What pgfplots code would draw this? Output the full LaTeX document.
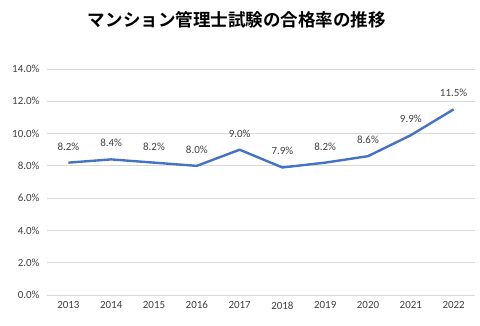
\documentclass[border=0pt]{standalone}
\usepackage{pgfplots}
\pgfplotsset{compat=1.18}
\usepackage{fontspec}
\setmainfont{Carlito}
\newfontfamily\cjk{Noto Sans CJK JP}[BoldFont={* Bold}]
\definecolor{lineblue}{HTML}{4472C4}
\definecolor{gridgray}{HTML}{D9D9D9}
\definecolor{txtgray}{HTML}{404040}
\begin{document}
\begin{tikzpicture}[x=1bp,y=1bp]
\useasboundingbox (0,0) rectangle (480,325);
\node[font={\cjk\bfseries\fontsize{17.6}{20}\selectfont}, text=black] at (237,305) {マンション管理士試験の合格率の推移};
\begin{axis}[
  at={(47bp,30bp)}, anchor=south west,
  scale only axis, width=428bp, height=226bp,
  xmin=-0.5, xmax=9.5, ymin=0, ymax=14,
  xtick={0,...,9},
  xticklabels={2013,2014,2015,2016,2017,2018,2019,2020,2021,2022},
  ytick={0,2,...,14},
  yticklabels={0.0\%,2.0\%,4.0\%,6.0\%,8.0\%,10.0\%,12.0\%,14.0\%},
  axis line style={draw=none},
  major tick length=0pt,
  ymajorgrids, grid style={gridgray, line width=0.9pt},
  tick label style={font=\fontsize{11}{13}\selectfont, text=txtgray},
  yticklabel style={xshift=-4bp},
  xticklabel style={yshift=-3bp},
  /pgf/number format/assume math mode=true,
  clip=false,
]
\addplot[lineblue, line width=2.4pt, line join=round,
  point meta=y,
  nodes near coords={\pgfmathprintnumber[fixed,fixed zerofill,precision=1]{\pgfplotspointmeta}\%},
  every node near coord/.append style={font=\fontsize{11}{13}\selectfont, text=txtgray, yshift=8bp},
] coordinates {
  (0,8.2) (1,8.4) (2,8.2) (3,8.0) (4,9.0) (5,7.9) (6,8.2) (7,8.6) (8,9.9) (9,11.5)
};
\end{axis}
\end{tikzpicture}
\end{document}
